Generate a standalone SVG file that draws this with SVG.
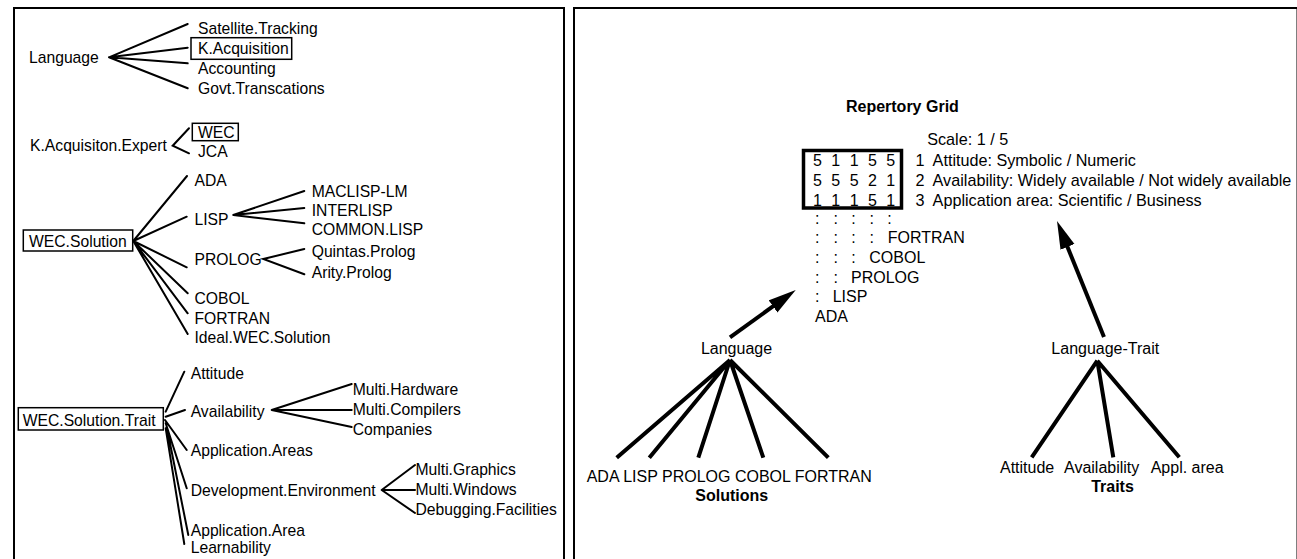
<svg xmlns="http://www.w3.org/2000/svg" width="1297" height="559" viewBox="0 0 1297 559">
<style>
text{font-family:"Liberation Sans",Arial,Helvetica,sans-serif;font-size:16px;fill:#000}
.l text{font-size:15.7px}
.lg{font-size:16.2px}
.b{font-weight:bold}
.m{text-anchor:middle}
.thin{stroke:#000;stroke-width:2;fill:none;stroke-linecap:round}
.thick{stroke:#000;stroke-width:4;fill:none}
.box{stroke:#000;stroke-width:1.5;fill:none}
.frame{stroke:#000;stroke-width:2;fill:none}
</style>
<defs>
<marker id="ah" markerUnits="userSpaceOnUse" markerWidth="30" markerHeight="16" refX="8" refY="7.5" orient="auto" viewBox="0 0 30 15">
<path d="M0,0 L28,7.5 L0,15 z" fill="#000"/>
</marker>
</defs>

<g id="frames">
<path class="frame" d="M14,562 V8 H564 V562"/>
<path class="frame" d="M574,562 V8 H1297.5 V562"/>
</g>

<g id="connectors">
<g class="thin">
<path d="M109,57.3 L187.7,24 M109,57.3 L187.7,47.7 M109,57.3 L187.7,63.3 M109,57.3 L187.7,88.3"/>
<path d="M189,128.3 L172.7,145.7 L189,153.3"/>
<path d="M133.3,241 L187,176 M133.3,241 L186.7,216.7 M133.3,241 L186.7,267.3 M133.3,241 L187.7,293.3 M133.3,241 L187.7,313.3 M133.3,241 L187.7,334"/>
<path d="M233.3,215 L304.3,191 M233.3,215 L304.3,208 M233.3,215 L304.3,223.3"/>
<path d="M304.3,249 L263.3,259 L304.3,274.3"/>
<path d="M165.7,411.7 L184.3,371.7 M165.7,416.7 L185,410 M165,420 L186.7,450 M165.7,423.3 L186.7,488.3 M166.7,426.7 L188.3,535 M165.7,428.3 L184.3,544"/>
<path d="M271.7,410 L351.7,384 M271.7,410 L351.7,410 M271.7,410 L351.7,427"/>
<path d="M381.7,490 L415,465 M381.7,490 L415,490 M381.7,490 L415,513"/>
</g>
<g class="thick">
<path d="M730,360 L616.7,457.7 M730,360 L649.3,457.7 M730,360 L698.3,457.7 M730,360 L763.3,457.7 M730,360 L828.3,457.7"/>
<path d="M1097.3,360.7 L1031.7,457.3 M1097.3,360.7 L1113.3,457.3 M1097.3,360.7 L1179.3,457.3"/>
<path d="M730,337.3 L779.5,301.7" marker-end="url(#ah)"/>
<path d="M1104,337 L1064.5,239.5" marker-end="url(#ah)"/>
</g>
</g>

<g class="l">
<g id="n-language"><text x="29" y="62.5">Language</text></g>
<g id="n-sat"><text x="198" y="34.2">Satellite.Tracking</text></g>
<g id="n-kacq"><rect class="box" x="191" y="37.7" width="100.7" height="21.6"/><text x="198" y="54.2">K.Acquisition</text></g>
<g id="n-acc"><text x="198" y="74.2">Accounting</text></g>
<g id="n-govt"><text x="198" y="93.5">Govt.Transcations</text></g>

<g id="n-kexpert"><text x="30" y="151">K.Acquisiton.Expert</text></g>
<g id="n-wec"><rect class="box" x="192.3" y="123.3" width="46" height="17.4"/><text x="198" y="137.7">WEC</text></g>
<g id="n-jca"><text x="198" y="157">JCA</text></g>

<g id="n-wecsol"><rect class="box" x="23.3" y="230" width="109.4" height="21"/><text x="29" y="246.5">WEC.Solution</text></g>
<g id="n-ada"><text x="194.5" y="186">ADA</text></g>
<g id="n-lisp"><text x="194.5" y="225.3">LISP</text></g>
<g id="n-maclisp"><text x="311.7" y="196.5">MACLISP-LM</text></g>
<g id="n-interlisp"><text x="311.7" y="215.5">INTERLISP</text></g>
<g id="n-common"><text x="311.7" y="235">COMMON.LISP</text></g>
<g id="n-prolog"><text x="194.5" y="264.5">PROLOG</text></g>
<g id="n-quintas"><text x="311.7" y="256.5">Quintas.Prolog</text></g>
<g id="n-arity"><text x="311.7" y="278">Arity.Prolog</text></g>
<g id="n-cobol"><text x="194.5" y="303.7">COBOL</text></g>
<g id="n-fortran"><text x="194.5" y="323.5">FORTRAN</text></g>
<g id="n-ideal"><text x="194.5" y="343">Ideal.WEC.Solution</text></g>

<g id="n-trait"><rect class="box" x="18.3" y="407.7" width="145" height="22.3"/><text x="22.7" y="425.5">WEC.Solution.Trait</text></g>
<g id="n-attitude"><text x="190.7" y="379.3">Attitude</text></g>
<g id="n-avail"><text x="190.7" y="417">Availability</text></g>
<g id="n-mhw"><text x="352.7" y="395">Multi.Hardware</text></g>
<g id="n-mcomp"><text x="352.7" y="414.5">Multi.Compilers</text></g>
<g id="n-comp"><text x="352.7" y="435">Companies</text></g>
<g id="n-appareas"><text x="190.7" y="456">Application.Areas</text></g>
<g id="n-devenv"><text x="190.7" y="496">Development.Environment</text></g>
<g id="n-mgr"><text x="415.5" y="475">Multi.Graphics</text></g>
<g id="n-mwin"><text x="415.5" y="495">Multi.Windows</text></g>
<g id="n-debug"><text x="415.5" y="514.5">Debugging.Facilities</text></g>
<g id="n-apparea"><text x="190.7" y="536">Application.Area</text></g>
<g id="n-learn"><text x="190.7" y="553">Learnability</text></g>
</g>

<g id="n-grid">
<text class="b m" x="902.4" y="112">Repertory Grid</text>
<rect x="803.5" y="150.5" width="98" height="57.5" fill="none" stroke="#000" stroke-width="3.5"/>
<g class="m">
<text x="817.5" y="166">5</text><text x="835.8" y="166">1</text><text x="854.1" y="166">1</text><text x="872.4" y="166">5</text><text x="890.7" y="166">5</text>
<text x="817.5" y="186">5</text><text x="835.8" y="186">5</text><text x="854.1" y="186">5</text><text x="872.4" y="186">2</text><text x="890.7" y="186">1</text>
<text x="817.5" y="205.5">1</text><text x="835.8" y="205.5">1</text><text x="854.1" y="205.5">1</text><text x="872.4" y="205.5">5</text><text x="890.7" y="205.5">1</text>
</g>
<g class="lg">
<text class="lg" x="927.2" y="145">Scale: 1 / 5</text>
<text class="lg" x="915.5" y="166">1</text><text class="lg" x="932.6" y="166">Attitude: Symbolic / Numeric</text>
<text class="lg" x="915.5" y="186">2</text><text class="lg" x="932.6" y="186">Availability: Widely available / Not widely available</text>
<text class="lg" x="915.5" y="205.5">3</text><text class="lg" x="932.6" y="205.5">Application area: Scientific / Business</text>
</g>
<g class="m">
<text x="817.3" y="223.5">:</text><text x="835.7" y="223.5">:</text><text x="853.5" y="223.5">:</text><text x="871.7" y="223.5">:</text><text x="889.5" y="223.5">:</text>
<text x="817.3" y="243">:</text><text x="835.7" y="243">:</text><text x="853.5" y="243">:</text><text x="871.7" y="243">:</text>
<text x="817.3" y="263">:</text><text x="835.7" y="263">:</text><text x="853.5" y="263">:</text>
<text x="817.3" y="282.5">:</text><text x="835.7" y="282.5">:</text>
<text x="817.3" y="302">:</text>
</g>
<text x="887.7" y="243">FORTRAN</text>
<text x="869.3" y="263">COBOL</text>
<text x="851" y="282.5">PROLOG</text>
<text x="832.7" y="302">LISP</text>
<text x="815" y="322">ADA</text>
</g>

<g id="n-rlang"><text class="m" x="736.5" y="354">Language</text></g>
<g id="n-solutions">
<text x="586.7" y="481.7">ADA LISP PROLOG COBOL FORTRAN</text>
<text class="b m" x="731.7" y="500.7">Solutions</text>
</g>
<g id="n-rtrait"><text class="m" x="1105.3" y="354">Language-Trait</text></g>
<g id="n-traits">
<text x="1000" y="473">Attitude</text>
<text x="1064" y="473">Availability</text>
<text x="1150.7" y="473">Appl. area</text>
<text class="b m" x="1112.5" y="492.3">Traits</text>
</g>
</svg>
